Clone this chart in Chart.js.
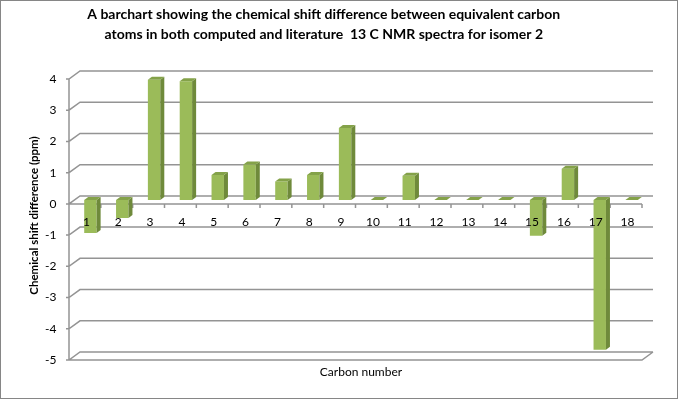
<!DOCTYPE html>
<html>
<head>
<meta charset="utf-8">
<script src="https://cdn.jsdelivr.net/npm/chart.js@4.4.1/dist/chart.umd.min.js"></script>
<style>
  html, body { margin: 0; padding: 0; background: #fff; }
  #wrap { width: 678px; height: 399px; }
</style>
</head>
<body>
<div id="wrap"><canvas id="chart" width="678" height="399"></canvas></div>
<script>
// chart data
const carbonLabels = ['1', '2', '3', '4', '5', '6', '7', '8', '9',
  '10', '11', '12', '13', '14', '15', '16', '17', '18'];
const shiftDiff = [-1.06, -0.58, 3.85, 3.8, 0.8, 1.13, 0.59, 0.8, 2.3,
  0, 0.77, 0, 0, 0, -1.15, 1.0, -4.8, 0];
const yTicks = { min: -5, max: 4, step: 1 };

const titleLines = [
  'A barchart showing the chemical shift difference between equivalent carbon',
  'atoms in both computed and literature  13 C NMR spectra for isomer 2',
];

// half depth of the 3D box (front plane -> middle -> back wall)
const DX = 5.5;
const DY = 4;
const LINE = '#949494';
const FACE = '#9BBB59';
const SIDE = '#6F8A3B';
const TOP = '#84A249';

const box3d = {
  id: 'box3d',
  beforeDraw(chart) {
    const { ctx, width, height } = chart;
    ctx.save();
    ctx.fillStyle = '#fff';
    ctx.fillRect(0, 0, width, height);
    ctx.strokeStyle = '#868686';
    ctx.lineWidth = 1;
    ctx.strokeRect(0.5, 0.5, width - 1, height - 1);
    ctx.restore();
  },
  beforeDatasetsDraw(chart) {
    const { ctx, chartArea: a, scales: { y } } = chart;
    const fl = a.left - DX, fr = a.right - DX;
    const bl = a.left + DX, br = a.right + DX;
    ctx.save();
    ctx.strokeStyle = LINE;
    ctx.lineWidth = 1.5;
    ctx.beginPath();
    // back wall gridlines with the left wall diagonal
    y.ticks.forEach(t => {
      const py = y.getPixelForValue(t.value);
      ctx.moveTo(fl - 3, py + DY);
      ctx.lineTo(fl, py + DY);
      ctx.lineTo(bl, py - DY);
      ctx.lineTo(br, py - DY);
    });
    // front left axis
    ctx.moveTo(fl, y.getPixelForValue(yTicks.max) + DY);
    ctx.lineTo(fl, y.getPixelForValue(yTicks.min) + DY);
    // floor front edge
    const yf = y.getPixelForValue(yTicks.min);
    ctx.moveTo(fl, yf + DY);
    ctx.lineTo(fr, yf + DY);
    ctx.lineTo(br, yf - DY);
    // zero line front edge + category ticks
    const y0 = y.getPixelForValue(0) + DY;
    ctx.moveTo(fl, y0);
    ctx.lineTo(fr, y0);
    const n = carbonLabels.length;
    for (let k = 0; k <= n; k++) {
      const bx = fl + k * (fr - fl) / n;
      ctx.moveTo(bx, y0);
      ctx.lineTo(bx, y0 + 4);
    }
    ctx.stroke();
    ctx.restore();
  },
  afterDatasetsDraw(chart) {
    const { ctx } = chart;
    const meta = chart.getDatasetMeta(0);
    const dx = 4, dy = 3;
    ctx.save();
    meta.data.forEach(bar => {
      const { x, y, base, width } = bar.getProps(['x', 'y', 'base', 'width'], true);
      const l = x - width / 2, r = x + width / 2;
      const top = Math.min(y, base), bot = Math.max(y, base);
      // side face
      ctx.fillStyle = SIDE;
      ctx.beginPath();
      ctx.moveTo(r, top);
      ctx.lineTo(r + dx, top - dy);
      ctx.lineTo(r + dx, bot - dy);
      ctx.lineTo(r, bot);
      ctx.closePath();
      ctx.fill();
      // top face
      ctx.fillStyle = TOP;
      ctx.beginPath();
      ctx.moveTo(l, top);
      ctx.lineTo(l + dx, top - dy);
      ctx.lineTo(r + dx, top - dy);
      ctx.lineTo(r, top);
      ctx.closePath();
      ctx.fill();
    });
    ctx.restore();
  },
};

Chart.defaults.font.family = 'Lato';
Chart.defaults.color = '#000';

new Chart(document.getElementById('chart'), {
  type: 'bar',
  data: {
    labels: carbonLabels,
    datasets: [{
      data: shiftDiff,
      backgroundColor: FACE,
      borderWidth: 0,
      categoryPercentage: 1,
      barPercentage: 0.39,
    }],
  },
  options: {
    responsive: false,
    animation: false,
    layout: { padding: { left: 0, right: 30.5, top: 0, bottom: 0 } },
    plugins: {
      legend: { display: false },
      tooltip: { enabled: false },
      title: {
        display: true,
        text: titleLines,
        color: '#000',
        font: { size: 14, weight: 'bold', lineHeight: '20px' },
        padding: { top: 4, bottom: 31 },
      },
    },
    scales: {
      y: {
        min: yTicks.min,
        max: yTicks.max,
        afterFit(s) { s.width = 74.5; },
        ticks: { stepSize: yTicks.step, font: { size: 12 }, padding: 18, labelOffset: 4, crossAlign: 'near' },
        grid: { display: false, drawTicks: false, tickLength: 0 },
        border: { display: false },
        title: {
          display: true,
          text: 'Chemical shift difference (ppm)',
          font: { size: 11.5, weight: 'bold' },
          padding: { top: 27, bottom: 0 },
        },
      },
      x: {
        position: { y: 0 },
        afterFit(s) { s.height = 0; },
        grid: { display: false, drawTicks: false },
        border: { display: false },
        ticks: { z: 1, font: { size: 12 }, padding: 15, labelOffset: -4, maxRotation: 0, autoSkip: false },
      },
      x2: {
        position: 'bottom',
        afterFit(s) { s.height = 43; },
        grid: { display: false, drawTicks: false },
        border: { display: false },
        ticks: { display: false },
        title: {
          display: true,
          text: 'Carbon number',
          font: { size: 12 },
          padding: { top: 0, bottom: 20 },
        },
      },
    },
  },
  plugins: [box3d],
});
</script>
</body>
</html>
